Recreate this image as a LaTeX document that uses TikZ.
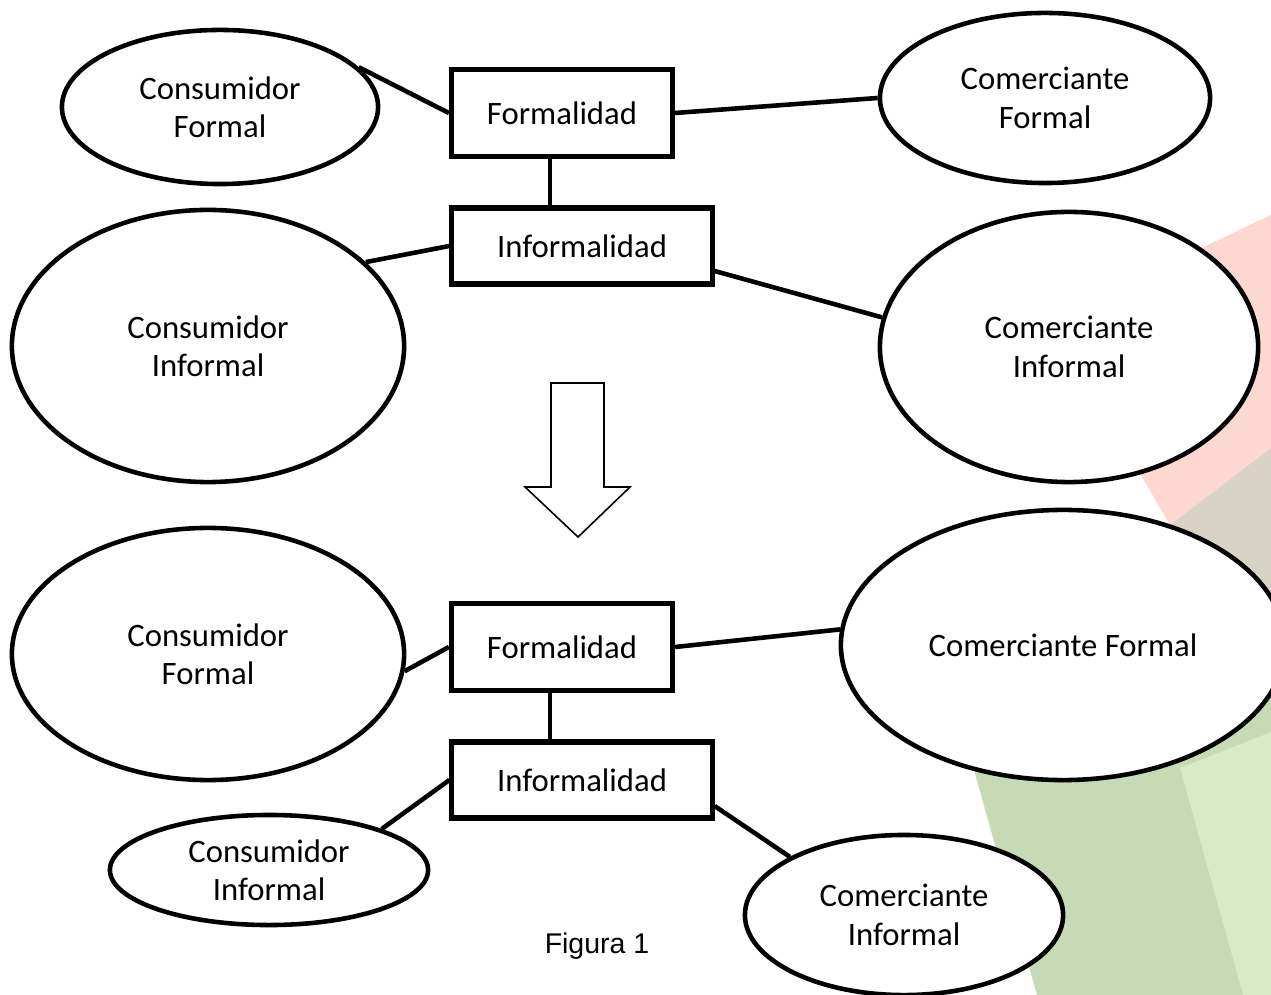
\documentclass[tikz,border=0pt]{standalone}
\usepackage{fontspec}
\setmainfont{Carlito}
\newfontfamily\figfont{Liberation Sans}
\usepackage{tikz}
\usetikzlibrary{shapes.geometric, positioning, calc, shadows}
\definecolor{bgpink}{RGB}{252,216,208}
\definecolor{bgtan}{RGB}{217,211,197}
\definecolor{bggreen}{RGB}{197,218,181}
\definecolor{bglight}{RGB}{216,235,201}
\tikzset{
  actor/.style={ellipse, draw=black, fill=white, line width=1.3pt,
    inner sep=0pt, align=center, font=\fontsize{9.3}{10.9}\selectfont},
  level/.style={rectangle, draw=black, fill=white, line width=1.45pt,
    inner sep=0pt, align=center, font=\fontsize{9.3}{10.9}\selectfont},
  link/.style={line width=1.3pt, color=black},
  bigarrow/.style={draw=black, fill=white, line width=0.45pt,
    drop shadow={opacity=0.12, shadow xshift=0.4pt, shadow yshift=-0.4pt}}
}
\begin{document}
\begin{tikzpicture}[x=0.01cm, y=-0.01cm]
  \useasboundingbox (0,0) rectangle (1271,995);

  % Background bands
  \fill[bgpink] (1271,215) -- (1050,320) -- (1170,525) -- (1271,448) -- cycle;
  \fill[bgtan] (1271,448) -- (1170,525) -- (1230,640) -- (1271,640) -- cycle;
  \fill[bggreen] (1271,650) -- (960,720) -- (1037,995) -- (1271,995) -- cycle;
  \fill[bglight] (1271,732) -- (1180,768) -- (1243,995) -- (1271,995) -- cycle;

  % Top group
  \node[level, minimum width=2.21cm, minimum height=0.87cm] (f1) at (562,113) {Formalidad};
  \node[level, minimum width=2.60cm, minimum height=0.76cm] (i1) at (582,246) {Informalidad};
  \node[actor, minimum width=3.16cm, minimum height=1.54cm] (conf1) at (220,107) {Consumidor\\Formal};
  \node[actor, minimum width=3.30cm, minimum height=1.70cm] (comf1) at (1045,98) {Comerciante\\Formal};
  \node[actor, minimum width=3.92cm, minimum height=2.72cm] (coni1) at (208,346) {Consumidor\\Informal};
  \node[actor, minimum width=3.78cm, minimum height=2.70cm] (comi1) at (1069,347) {Comerciante\\Informal};

  \draw[link] (conf1.16) -- (f1.west);
  \draw[link] (f1.east) -- (comf1.west);
  \draw[link] ([xshift=-0.12cm]f1.south) -- ([xshift=-0.12cm]f1.south |- i1.north);
  \draw[link] (coni1.28) -- (i1.west);
  \draw[link] ([yshift=-0.25cm]i1.east) -- (comi1.171);

  % Transition arrow
  \draw[bigarrow] (551,383) -- (604,383) -- (604,487) -- (630,487) -- (578,537)
    -- (525,487) -- (551,487) -- cycle;

  % Bottom group
  \node[level, minimum width=2.21cm, minimum height=0.87cm] (f2) at (562,647) {Formalidad};
  \node[level, minimum width=2.60cm, minimum height=0.76cm] (i2) at (582,780) {Informalidad};
  \node[actor, minimum width=3.92cm, minimum height=2.52cm] (conf2) at (208,654) {Consumidor\\Formal};
  \node[actor, minimum width=4.44cm, minimum height=2.70cm] (comf2) at (1063,645) {Comerciante Formal};
  \node[actor, minimum width=3.18cm, minimum height=1.10cm] (coni2) at (269,870) {Consumidor\\Informal};
  \node[actor, minimum width=3.18cm, minimum height=1.60cm] (comi2) at (904,915) {Comerciante\\Informal};

  \draw[link] (conf2.-5) -- (f2.west);
  \draw[link] (f2.east) -- (comf2.176);
  \draw[link] ([xshift=-0.12cm]f2.south) -- ([xshift=-0.12cm]f2.south |- i2.north);
  \draw[link] (coni2.20) -- (i2.west);
  \draw[link] ([yshift=-0.26cm]i2.east) -- (comi2.153);

  % Caption
  \node[font=\figfont\fontsize{8.1}{10}\selectfont] (cap) at (597,946) {Figura 1};
\end{tikzpicture}
\end{document}
